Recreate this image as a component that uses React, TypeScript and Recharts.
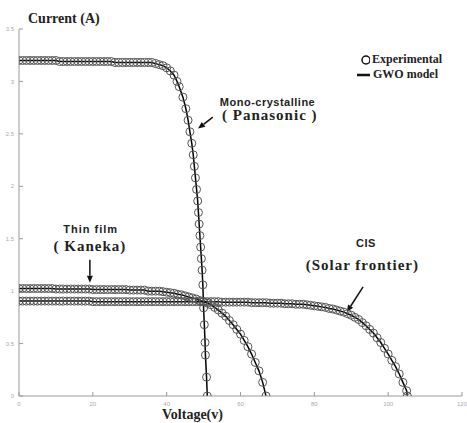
import React from 'react';
import {
  ComposedChart,
  Line,
  Scatter,
  XAxis,
  YAxis,
  ReferenceDot,
  ReferenceLine,
} from 'recharts';

// axis ticks
const xTicks = [0, 20, 40, 60, 80, 100, 120];
const yTicks = [0, 0.5, 1, 1.5, 2, 2.5, 3, 3.5];

// Mono-crystalline (Panasonic)
const panaV = [
  0, 1, 2, 3, 4, 5, 6, 7, 8, 9, 10, 11, 12, 13, 14, 15, 16, 17, 18, 19, 20, 21,
  22, 23, 24, 25, 26, 27, 28, 29, 30, 31, 32, 33, 34, 35, 36, 37, 38, 39, 40, 41,
  42, 42.8, 43.4, 44.4, 45.2, 45.8, 46.3, 46.8, 47.2, 47.5, 47.8, 48.1, 48.4,
  48.6, 48.8, 49.0, 49.2, 49.4, 49.6, 49.8, 50.0, 50.2, 50.4, 50.5, 50.8, 51.0,
];
const panaI = [
  3.2, 3.2, 3.2, 3.2, 3.2, 3.2, 3.2, 3.2, 3.2, 3.2, 3.2, 3.19, 3.19, 3.19, 3.19,
  3.19, 3.19, 3.19, 3.19, 3.19, 3.19, 3.19, 3.19, 3.19, 3.19, 3.19, 3.18, 3.18,
  3.18, 3.18, 3.18, 3.18, 3.18, 3.18, 3.18, 3.18, 3.18, 3.17, 3.16, 3.15, 3.13,
  3.1, 3.06, 3.0, 2.95, 2.85, 2.74, 2.63, 2.52, 2.41, 2.3, 2.19, 2.08, 1.97, 1.86,
  1.75, 1.64, 1.53, 1.42, 1.31, 1.2, 1.06, 0.84, 0.68, 0.51, 0.39, 0.18, 0,
];

// Thin film (Kaneka)
const kanekaV = [
  0, 1, 2, 3, 4, 5, 6, 7, 8, 9, 10, 11, 12, 13, 14, 15, 16, 17, 18, 19, 20, 21,
  22, 23, 24, 25, 26, 27, 28, 29, 30, 31, 32, 33, 34, 35, 36, 37, 38, 39, 40, 41,
  42, 43, 44, 45, 46, 47, 48, 49, 50, 51, 52, 53, 54, 55, 56, 57, 58, 59, 60, 61,
  62, 63, 64, 65, 66, 66.9,
];
const kanekaI = [
  1.025, 1.025, 1.025, 1.025, 1.025, 1.025, 1.025, 1.025, 1.025, 1.025, 1.02,
  1.02, 1.02, 1.02, 1.02, 1.02, 1.02, 1.02, 1.02, 1.02, 1.015, 1.015, 1.015,
  1.015, 1.015, 1.015, 1.015, 1.015, 1.015, 1.015, 1.01, 1.01, 1.01, 1.01, 1.01,
  1.0, 1.0, 1.0, 1.0, 0.995, 0.99, 0.985, 0.98, 0.97, 0.965, 0.955, 0.945, 0.935,
  0.925, 0.91, 0.9, 0.885, 0.87, 0.845, 0.82, 0.79, 0.76, 0.72, 0.68, 0.635,
  0.59, 0.53, 0.47, 0.4, 0.32, 0.24, 0.13, 0,
];

// CIS (Solar frontier)
const cisV = [
  0, 1, 2, 3, 4, 5, 6, 7, 8, 9, 10, 11, 12, 13, 14, 15, 16, 17, 18, 19, 20, 21,
  22, 23, 24, 25, 26, 27, 28, 29, 30, 31, 32, 33, 34, 35, 36, 37, 38, 39, 40, 41,
  42, 43, 44, 45, 46, 47, 48, 49, 50, 51, 52, 53, 54, 55, 56, 57, 58, 59, 60, 61,
  62, 63, 64, 65, 66, 67, 68, 69, 70, 71, 72, 73, 74, 75, 76, 77, 78, 79, 80, 81,
  82, 83, 84, 85, 86, 87, 88, 89, 90, 91, 92, 93, 94, 95, 96, 97, 98, 99, 100,
  101, 102, 103, 104, 105, 105.2,
];
const cisI = [
  0.905, 0.905, 0.905, 0.905, 0.905, 0.905, 0.905, 0.905, 0.905, 0.905, 0.905,
  0.905, 0.905, 0.905, 0.905, 0.905, 0.905, 0.905, 0.905, 0.905, 0.9, 0.9, 0.9,
  0.9, 0.9, 0.9, 0.9, 0.9, 0.9, 0.9, 0.9, 0.9, 0.9, 0.9, 0.9, 0.9, 0.9, 0.9,
  0.9, 0.9, 0.9, 0.9, 0.9, 0.9, 0.9, 0.9, 0.9, 0.9, 0.9, 0.9, 0.9, 0.9, 0.9,
  0.9, 0.9, 0.895, 0.895, 0.895, 0.895, 0.895, 0.895, 0.895, 0.895, 0.89, 0.89,
  0.89, 0.89, 0.89, 0.885, 0.885, 0.885, 0.885, 0.88, 0.88, 0.88, 0.875, 0.875,
  0.875, 0.87, 0.865, 0.86, 0.855, 0.85, 0.845, 0.835, 0.83, 0.82, 0.81, 0.8,
  0.785, 0.77, 0.75, 0.73, 0.7, 0.67, 0.635, 0.6, 0.555, 0.51, 0.455, 0.4, 0.34,
  0.28, 0.21, 0.13, 0.05, 0,
];

const toRows = (v: number[], i: number[]) => v.map((x, k) => ({ v: x, i: i[k] }));
const panaData = toRows(panaV, panaI);
const kanekaData = toRows(kanekaV, kanekaI);
const cisData = toRows(cisV, cisI);

const SERIF = '"Liberation Serif", "Times New Roman", serif';
const SANS = '"Liberation Sans", Arial, sans-serif';
const AXIS = '#9a9a9a';

const OpenCircle = (p: any) => (
  <circle cx={p.cx} cy={p.cy} r={4} fill="none" stroke="#555" strokeWidth={1} />
);

const label = (txt: string, opts: any) => (p: any) => (
  <text
    x={p.cx}
    y={p.cy}
    textAnchor={opts.anchor || 'start'}
    fontFamily={opts.serif ? SERIF : SANS}
    fontWeight="bold"
    fontSize={opts.size}
    letterSpacing={opts.ls || 0}
    fill="#222"
  >
    {txt}
  </text>
);

const Arrow = (p: any) => {
  const { x1, y1, x2, y2 } = p;
  const a = Math.atan2(y2 - y1, x2 - x1);
  const L = 7;
  const W = 3;
  const bx = x2 - L * Math.cos(a);
  const by = y2 - L * Math.sin(a);
  const pts = [
    `${x2},${y2}`,
    `${bx + W * Math.sin(a)},${by - W * Math.cos(a)}`,
    `${bx - W * Math.sin(a)},${by + W * Math.cos(a)}`,
  ].join(' ');
  return (
    <g>
      <line x1={x1} y1={y1} x2={bx} y2={by} stroke="#111" strokeWidth={1.5} />
      <polygon points={pts} fill="#111" />
    </g>
  );
};

const tickStyle = { fontSize: 6, fill: '#aaa', fontFamily: SANS };

export default function App() {
  return (
    <div style={{ position: 'absolute', left: 0, top: 0, width: 467, height: 423, background: '#fff', overflow: 'hidden' }}>
      <ComposedChart
        width={467}
        height={423}
        margin={{ top: 29, right: 5, left: 0, bottom: 0 }}
      >
        <XAxis
          xAxisId={0}
          type="number"
          dataKey="v"
          domain={[0, 120]}
          ticks={xTicks}
          height={27}
          stroke={AXIS}
          tick={tickStyle}
          tickSize={-4}
          tickMargin={10}
          allowDataOverflow
        />
        <XAxis
          xAxisId="t"
          orientation="top"
          type="number"
          dataKey="v"
          domain={[0, 120]}
          ticks={xTicks}
          height={0}
          stroke={AXIS}
          tick={false}
          tickSize={-4}
        />
        <YAxis
          yAxisId={0}
          type="number"
          dataKey="i"
          domain={[0, 3.5]}
          ticks={yTicks}
          width={19}
          stroke={AXIS}
          tick={tickStyle}
          tickSize={-4}
          tickMargin={9}
          allowDataOverflow
        />
        <YAxis
          yAxisId="r"
          orientation="right"
          type="number"
          dataKey="i"
          domain={[0, 3.5]}
          ticks={yTicks}
          width={0}
          stroke={AXIS}
          tick={false}
          tickSize={-4}
        />

        <Scatter data={panaData} shape={OpenCircle} isAnimationActive={false} />
        <Scatter data={kanekaData} shape={OpenCircle} isAnimationActive={false} />
        <Scatter data={cisData} shape={OpenCircle} isAnimationActive={false} />

        <Line data={panaData} dataKey="i" type="linear" stroke="#000" strokeWidth={1.5} dot={false} isAnimationActive={false} />
        <Line data={kanekaData} dataKey="i" type="linear" stroke="#000" strokeWidth={1.5} dot={false} isAnimationActive={false} />
        <Line data={cisData} dataKey="i" type="linear" stroke="#000" strokeWidth={1.5} dot={false} isAnimationActive={false} />

        {/* annotations */}
        <ReferenceDot x={54.4} y={2.77} r={0} shape={label('Mono-crystalline', { size: 11, ls: 0.5 })} />
        <ReferenceDot x={55.0} y={2.63} r={0} shape={label('( Panasonic )', { size: 15, serif: true, ls: 1 })} />
        <ReferenceLine segment={[{ x: 52.5, y: 2.66 }, { x: 48.5, y: 2.55 }]} shape={Arrow} />

        <ReferenceDot x={19.4} y={1.55} r={0} shape={label('Thin film', { size: 11, ls: 1, anchor: 'middle' })} />
        <ReferenceDot x={19.2} y={1.38} r={0} shape={label('( Kaneka)', { size: 15, serif: true, ls: 1, anchor: 'middle' })} />
        <ReferenceLine segment={[{ x: 19.2, y: 1.3 }, { x: 19.2, y: 1.08 }]} shape={Arrow} />

        <ReferenceDot x={94} y={1.42} r={0} shape={label('CIS', { size: 11, ls: 0.5, anchor: 'middle' })} />
        <ReferenceDot x={93} y={1.2} r={0} shape={label('(Solar frontier)', { size: 15, serif: true, ls: 1, anchor: 'middle' })} />
        <ReferenceLine segment={[{ x: 93.2, y: 1.04 }, { x: 88.8, y: 0.8 }]} shape={Arrow} />
      </ComposedChart>

      <div style={{ position: 'absolute', left: 28, top: 12, fontFamily: SERIF, fontWeight: 'bold', fontSize: 14, lineHeight: '14px', color: '#222' }}>
        Current (A)
      </div>
      <div style={{ position: 'absolute', left: 162, top: 407, fontFamily: SERIF, fontWeight: 'bold', fontSize: 14, lineHeight: '15px', color: '#222' }}>
        Voltage(v)
      </div>

      {/* legend */}
      <div style={{ position: 'absolute', left: 356, top: 52, fontFamily: SERIF, fontWeight: 'bold', fontSize: 12, lineHeight: '15px', color: '#222' }}>
        <div style={{ display: 'flex', alignItems: 'center' }}>
          <svg width={14} height={12}>
            <circle cx={10} cy={6} r={4} fill="none" stroke="#111" strokeWidth={1.5} />
          </svg>
          <span style={{ marginLeft: 2 }}>Experimental</span>
        </div>
        <div style={{ display: 'flex', alignItems: 'center' }}>
          <svg width={15} height={12}>
            <line x1={1} y1={6} x2={14} y2={6} stroke="#111" strokeWidth={2.5} />
          </svg>
          <span style={{ marginLeft: 2 }}>GWO model</span>
        </div>
      </div>
    </div>
  );
}
